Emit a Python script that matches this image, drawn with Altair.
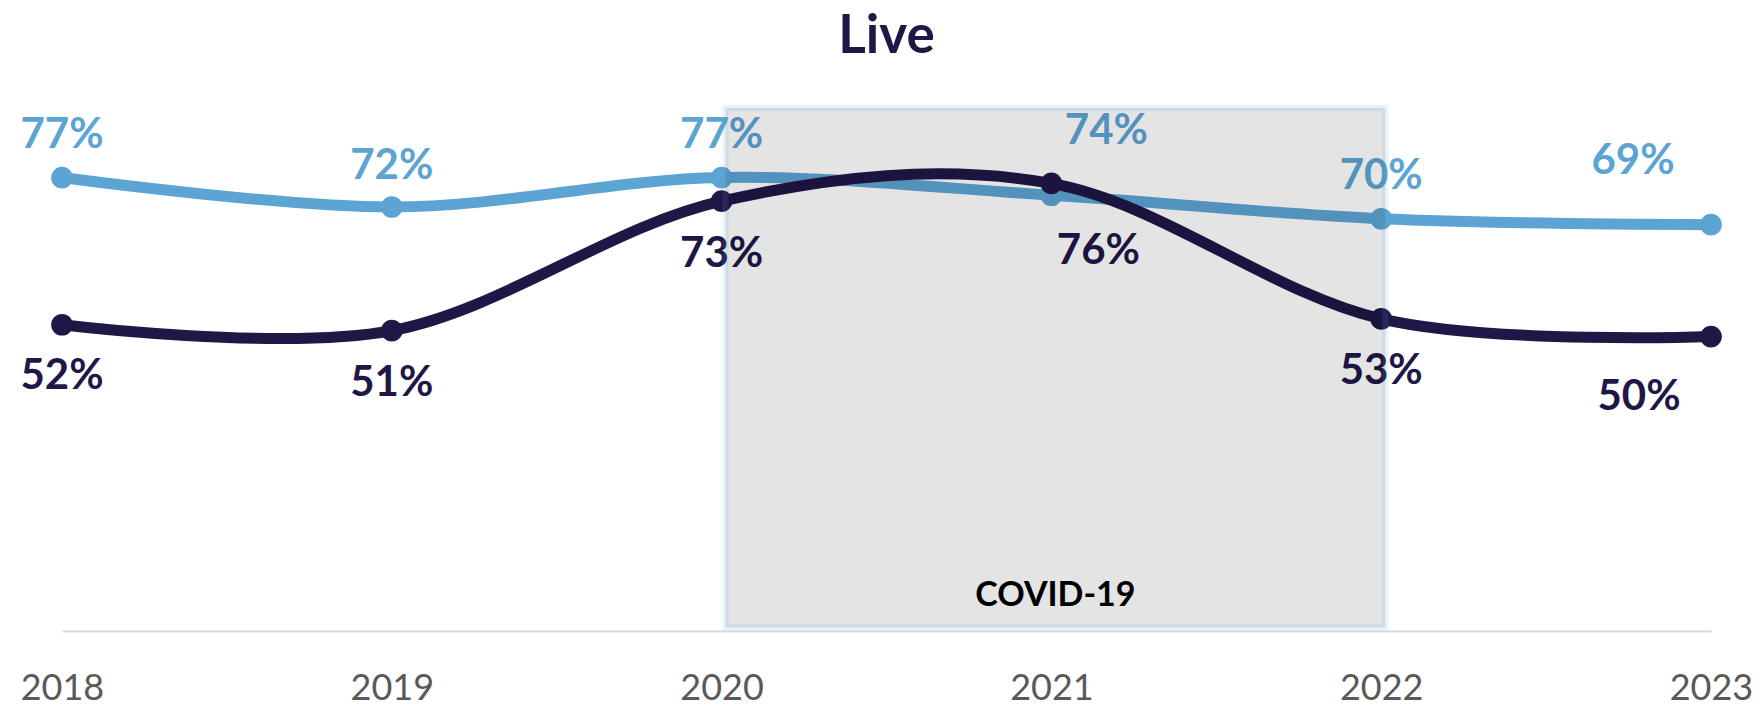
import altair as alt
import pandas as pd

# ---- data -------------------------------------------------------------
years = [2018, 2019, 2020, 2021, 2022, 2023]
series_names = ["Series 1", "Series 2"]
series_1_values = [77, 72, 77, 74, 70, 69]   # light blue line
series_2_values = [52, 51, 73, 76, 53, 50]   # dark navy line

covid_years = [2020, 2022]
covid_band = [0.6, 88.8]
covid_text = "COVID-19"

# ---- style ------------------------------------------------------------
LIGHT = "#5CA4D3"
DARK = "#201747"
GREY = "#595959"
FONT = "Lato"

PLOT_W, PLOT_H = 1649, 530
Y_MAX = 90
PX_PER_YEAR = PLOT_W / (years[-1] - years[0])
PX_PER_PCT = PLOT_H / Y_MAX

# label nudges in pixels (dx right, dy down) relative to each point
series_1_nudge = [(0, -43), (0, -41), (0, -43), (55, -64), (0, -43), (-78, -64)]
series_2_nudge = [(0, 51), (0, 52), (0, 53), (47, 68), (0, 52), (-72, 60)]

rows = []
for name, values, nudges in [
    (series_names[0], series_1_values, series_1_nudge),
    (series_names[1], series_2_values, series_2_nudge),
]:
    for yr, v, (dx, dy) in zip(years, values, nudges):
        rows.append(
            dict(
                series=name,
                year=yr,
                value=v,
                label=f"{v}%",
                label_x=yr + dx / PX_PER_YEAR,
                label_y=v - dy / PX_PER_PCT,
            )
        )
df = pd.DataFrame(rows)

band_df = pd.DataFrame(
    [dict(x1=covid_years[0], x2=covid_years[1], y1=covid_band[0], y2=covid_band[1])]
)
covid_df = pd.DataFrame(
    [dict(year=(covid_years[0] + covid_years[1]) / 2, value=5.9, text=covid_text)]
)

x_scale = alt.Scale(domain=[years[0], years[-1]], nice=False, zero=False)
y_scale = alt.Scale(domain=[0, Y_MAX], nice=False)
x_axis = alt.Axis(
    values=years,
    format="d",
    title=None,
    ticks=False,
    grid=False,
    labelFont=FONT,
    labelFontSize=36,
    labelColor=GREY,
    labelPadding=40,
    labelFlush=False,
    domainColor="#D9D9D9",
    domainWidth=2,
)


def X(field):
    return alt.X(field, type="quantitative", scale=x_scale, axis=x_axis)


def Y(field):
    return alt.Y(field, type="quantitative", scale=y_scale, axis=None)


def series_layers(name, color):
    part = alt.Chart(df).transform_filter(alt.datum.series == name)
    line = part.mark_line(
        color=color, strokeWidth=11, interpolate="cardinal", strokeCap="round"
    ).encode(x=X("year"), y=Y("value"))
    pts = part.mark_circle(color=color, size=470, opacity=1).encode(
        x=X("year"), y=Y("value")
    )
    labels = part.mark_text(
        color=color, font=FONT, fontWeight="bold", fontSize=42,
        baseline="middle", align="center",
    ).encode(x=X("label_x"), y=Y("label_y"), text="label:N")
    return [line, pts, labels]


# translucent shaded period, drawn over the lines so they darken inside it
band = alt.Chart(band_df).mark_rect(
    fill="black",
    fillOpacity=0.105,
    stroke=LIGHT,
    strokeOpacity=0.14,
    strokeWidth=6,
    xOffset=4,
    x2Offset=4,
).encode(x=X("x1"), x2="x2", y=Y("y1"), y2="y2")

covid_label = alt.Chart(covid_df).mark_text(
    color="black", font=FONT, fontWeight="bold", fontSize=34,
    baseline="middle", align="center", dx=4,
).encode(x=X("year"), y=Y("value"), text="text:N")

layers = series_layers(series_names[0], LIGHT) + series_layers(series_names[1], DARK)

chart = (
    alt.layer(*layers, band, covid_label)
    .properties(
        width=PLOT_W,
        height=PLOT_H,
        title=alt.TitleParams(
            "Live",
            font=FONT,
            fontSize=53,
            fontWeight="bold",
            color=DARK,
            anchor="middle",
            offset=37,
        ),
        autosize=alt.AutoSizeParams(type="none"),
        padding={"left": 62, "right": 49, "top": 101, "bottom": 81},
        background="white",
    )
    .configure_view(strokeWidth=0)
)

chart.save("out.html", embed_options={"renderer": "svg", "actions": False})
